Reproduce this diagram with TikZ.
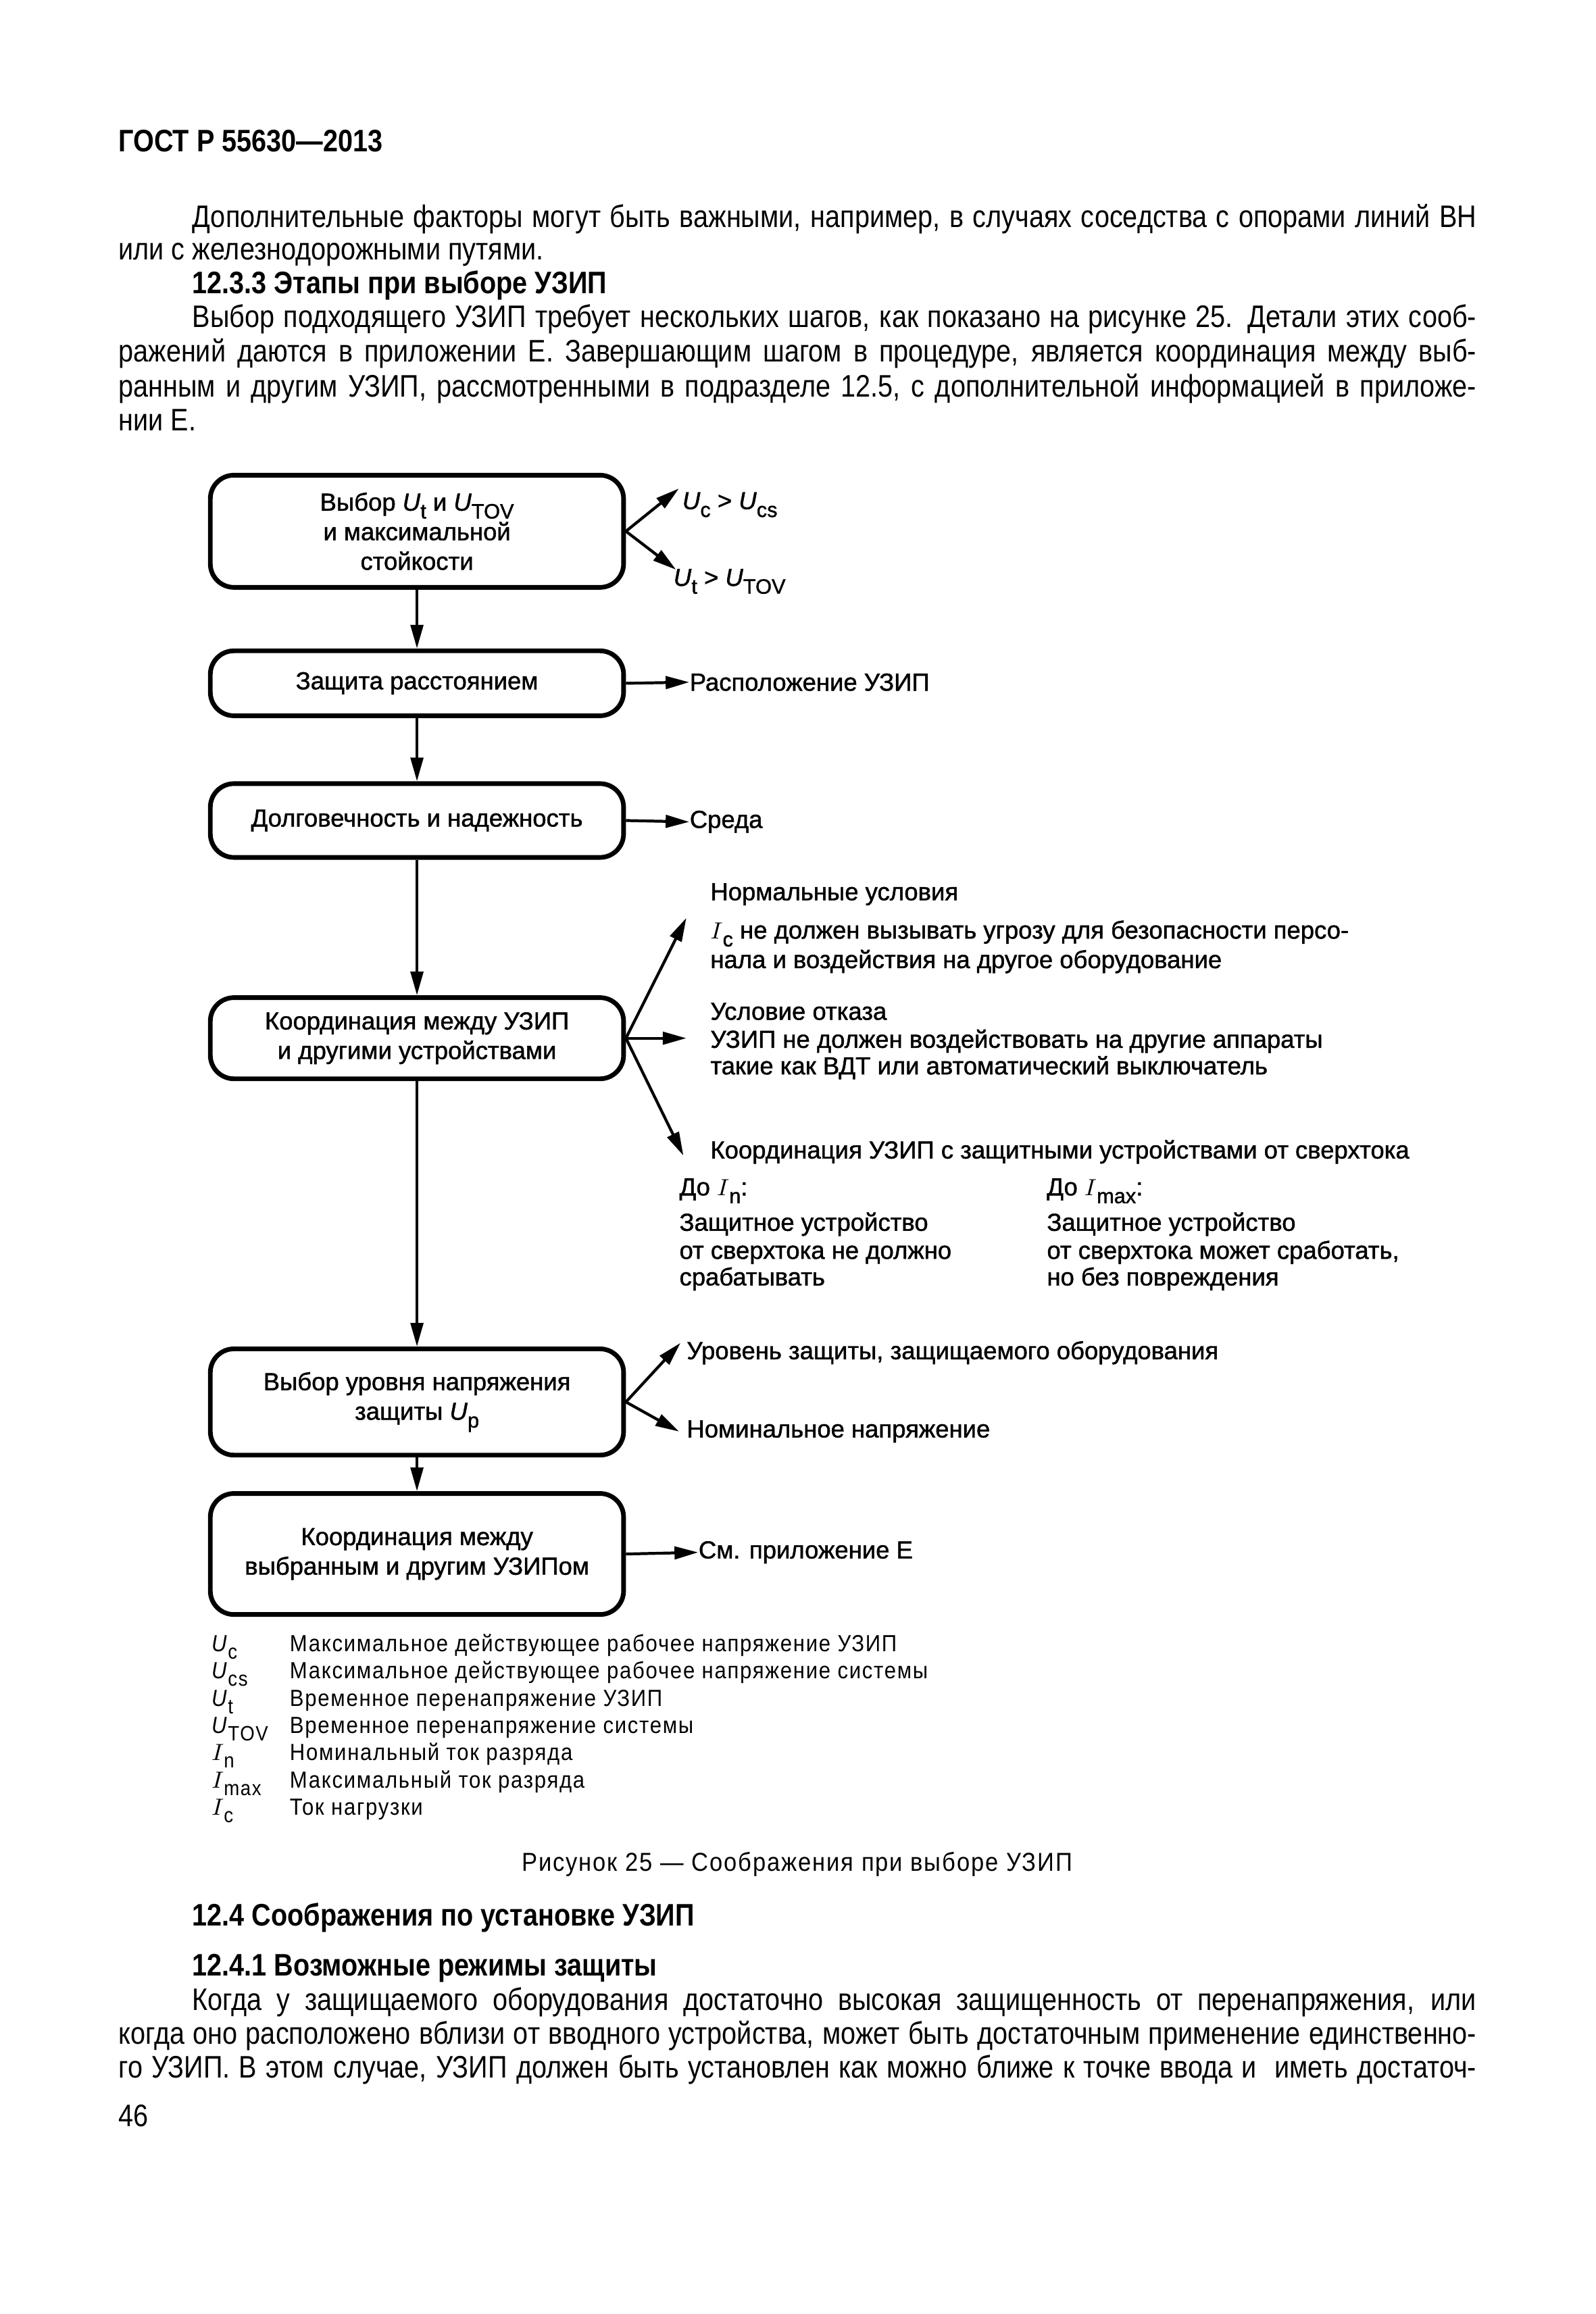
\documentclass[tikz,border=0pt]{standalone}
\usepackage{fontspec}
\setmainfont{Liberation Sans}
\usetikzlibrary{arrows.meta,positioning}
\newfontfamily\bodyfam[FakeStretch=0.86]{Liberation Sans}
\newfontfamily\diafam[FakeBold=1.3]{Liberation Sans}
\newfontfamily\legfam[FakeStretch=0.9,LetterSpace=5]{Liberation Sans}
\newcommand{\bodyfont}{\bodyfam\fontsize{12}{13}\selectfont}
\newcommand{\dia}{\diafam\fontsize{9.5}{11.4}\selectfont}
\newcommand{\legfont}{\legfam\fontsize{9}{10}\selectfont}
\newcommand{\capfont}{\legfam\fontsize{10}{11}\selectfont}
\newcommand{\lo}[1]{\raisebox{-0.6ex}{\footnotesize #1}}
\newcommand{\U}[1]{\textit{U}\lo{#1}}
\newcommand{\I}[1]{$I$\lo{#1}}
\newcommand{\jl}[2]{\makebox[#1][s]{#2}}

\begin{document}
\begin{tikzpicture}[x=0.2mm, y=-0.2mm,
  stage/.style={draw, line width=1.8pt, rounded corners=3.2mm,
    minimum width=56mm, align=center, inner sep=1pt, font=\dia},
  flow/.style={-{Triangle[length=3.2mm,width=1.7mm]}, line width=1.1pt},
  lbl/.style={anchor=base west, inner sep=0pt, font=\dia},
  body/.style={anchor=base west, inner sep=0pt, font=\bodyfont},
  head/.style={anchor=base west, inner sep=0pt, font=\bodyfont\bfseries},
  leg/.style={anchor=base west, inner sep=0pt, font=\legfont}]

\fill[white] (0,0) rectangle (1081,1568);
\useasboundingbox (0,0) rectangle (1081,1568);

% ---------------------------------------------------------------- text above
\node[head] (gost) at (80,103) {ГОСТ Р 55630—2013};
\node[body] (p1a) at (130,154) {\jl{174mm}{Дополнительные факторы могут быть важными, например, в случаях соседства с опорами линий ВН}};
\node[body] (p1b) at (80,176) {или с железнодорожными путями.};
\node[head] (h1233) at (130,199) {12.3.3 Этапы при выборе УЗИП};
\node[body] (p2a) at (130,222) {\jl{174mm}{Выбор подходящего УЗИП требует нескольких шагов, как показано на рисунке 25. Детали этих сооб-}};
\node[body] (p2b) at (80,245) {\jl{184mm}{ражений даются в приложении Е. Завершающим шагом в процедуре, является координация между выб-}};
\node[body] (p2c) at (80,269) {\jl{184mm}{ранным и другим УЗИП, рассмотренными в подразделе 12.5, с дополнительной информацией в приложе-}};
\node[body] (p2d) at (80,292) {нии Е.};

% ---------------------------------------------------------------- the stages
\node[stage, minimum height=15.2mm] (sel) at (282.5,360)
  {Выбор \U{t} и \U{TOV}\\ и максимальной\\ стойкости};
\node[stage, minimum height=8.8mm] (dist) at (282.5,463) {Защита расстоянием};
\node[stage, minimum height=10mm] (life) at (282.5,556) {Долговечность и надежность};
\node[stage, minimum height=11mm] (coord) at (282.5,703.5)
  {Координация между УЗИП\\ и другими устройствами};
\node[stage, minimum height=14.4mm] (level) at (282.5,950)
  {Выбор уровня напряжения\\ защиты \U{p}};
\node[stage, minimum height=16.4mm] (pair) at (282.5,1053)
  {Координация между\\ выбранным и другим УЗИПом};

\draw[flow] (sel) -- (dist);
\draw[flow] (dist) -- (life);
\draw[flow] (life) -- (coord);
\draw[flow] (coord) -- (level);
\draw[flow] (level) -- (pair);

% ---------------------------------------------------------------- what each stage gives
\coordinate (ucsTip) at (460,331);
\coordinate (utovTip) at (458,386);
\node[lbl] (ucs) at (462,345) {\U{c} > \U{cs}};
\node[lbl] (utov) at (456,397) {\U{t} > \U{TOV}};
\draw[flow] (sel.east) -- (ucsTip);
\draw[flow] (sel.east) -- (utovTip);

\node[lbl] (place) at (467,468) {Расположение УЗИП};
\draw[flow] (dist.east) -- (place.west);
\node[lbl] (env) at (467,561) {Среда};
\draw[flow] (life.east) -- (env.west);

\coordinate (normTip) at (465,622);
\coordinate (failTip) at (465,703.5);
\coordinate (ocpTip) at (463,783);
\draw[flow] (coord.east) -- (normTip);
\draw[flow] (coord.east) -- (failTip);
\draw[flow] (coord.east) -- (ocpTip);

\node[lbl] (norm) at (481,610) {Нормальные условия};
\node[lbl] (norm1) at (481,636) {\I{c} не должен вызывать угрозу для безопасности персо-};
\node[lbl] (norm2) at (481,656) {нала и воздействия на другое оборудование};
\node[lbl] (fail) at (481,691) {Условие отказа};
\node[lbl] (fail1) at (481,710) {УЗИП не должен воздействовать на другие аппараты};
\node[lbl] (fail2) at (481,728) {такие как ВДТ или автоматический выключатель};
\node[lbl] (ocp) at (481,785) {Координация УЗИП с защитными устройствами от сверхтока};
\node[lbl] (inA) at (460,810) {До \I{n}:};
\node[lbl] (inB) at (460,834) {Защитное устройство};
\node[lbl] (inC) at (460,853) {от сверхтока не должно};
\node[lbl] (inD) at (460,871) {срабатывать};
\node[lbl] (imA) at (709,810) {До \I{max}:};
\node[lbl] (imB) at (709,834) {Защитное устройство};
\node[lbl] (imC) at (709,853) {от сверхтока может сработать,};
\node[lbl] (imD) at (709,871) {но без повреждения};

\coordinate (upTip) at (461,910);
\coordinate (unTip) at (460,970);
\node[lbl] (up) at (465,921) {Уровень защиты, защищаемого оборудования};
\node[lbl] (un) at (465,974) {Номинальное напряжение};
\draw[flow] (level.east) -- (upTip);
\draw[flow] (level.east) -- (unTip);

\node[lbl] (annex) at (473,1056) {См. приложение Е};
\draw[flow] (pair.east) -- (annex.west);

% ---------------------------------------------------------------- key
\foreach \sym/\txt [count=\k] in {
  {\U{c}}/{Максимальное действующее рабочее напряжение УЗИП},
  {\U{cs}}/{Максимальное действующее рабочее напряжение системы},
  {\U{t}}/{Временное перенапряжение УЗИП},
  {\U{TOV}}/{Временное перенапряжение системы},
  {\I{n}}/{Номинальный ток разряда},
  {\I{max}}/{Максимальный ток разряда},
  {\I{c}}/{Ток нагрузки}}
{
  \node[leg] (sym\k) at (143,1100.5+18.5*\k) {\sym};
  \node[leg] (key\k) at (196,1100.5+18.5*\k) {\txt};
}
\node[leg, font=\capfont, anchor=base] (cap) at (540,1268) {Рисунок 25 — Соображения при выборе УЗИП};

% ---------------------------------------------------------------- text below
\node[head] (h124) at (130,1305) {12.4 Соображения по установке УЗИП};
\node[head] (h1241) at (130,1339) {12.4.1 Возможные режимы защиты};
\node[body] (p3a) at (130,1362) {\jl{174mm}{Когда у защищаемого оборудования достаточно высокая защищенность от перенапряжения, или}};
\node[body] (p3b) at (80,1385) {\jl{184mm}{когда оно расположено вблизи от вводного устройства, может быть достаточным применение единственно-}};
\node[body] (p3c) at (80,1408) {\jl{184mm}{го УЗИП. В этом случае, УЗИП должен быть установлен как можно ближе к точке ввода и \ иметь достаточ-}};
\node[body] (page) at (80,1441) {46};

\end{tikzpicture}
\end{document}
